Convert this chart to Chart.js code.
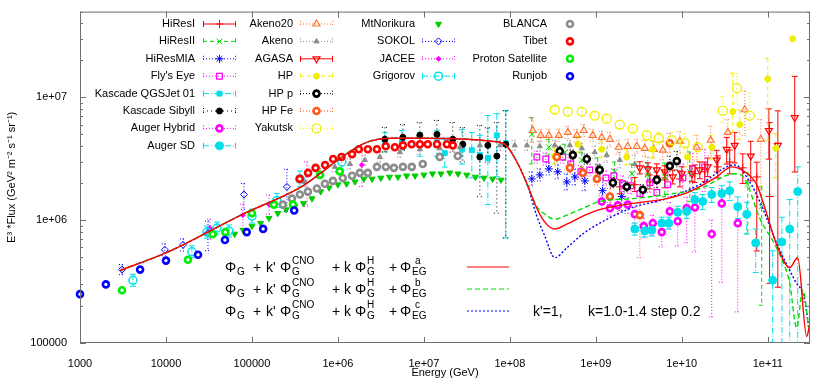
<!DOCTYPE html>
<html>
<head>
<meta charset="utf-8">
<script src="https://cdn.jsdelivr.net/npm/chart.js@4.4.1/dist/chart.umd.min.js"></script>
<style>
  html, body { margin: 0; padding: 0; background: #fff; }
</style>
</head>
<body>
<canvas id="spectrum" width="830" height="380"></canvas>
<script>
const FONT = "'Liberation Sans', Arial, sans-serif";

// axis ticks
const xTickValues = [1e3, 1e4, 1e5, 1e6, 1e7, 1e8, 1e9, 1e10, 1e11];
const xTickLabels = ["1000", "10000", "100000", "1e+06", "1e+07", "1e+08", "1e+09", "1e+10", "1e+11"];
const yTickValues = [1e5, 1e6, 1e7];
const yTickLabels = ["100000", "1e+06", "1e+07"];

// ---- measured data (E in GeV, E^3*flux), error bars as up/down factors
const hiresIE = [1.9e9, 2.84e9, 4.25e9, 6.34e9, 9.5e9, 1.42e10, 1.85e10, 2.62e10, 3.61e10, 5.12e10, 7.45e10, 1.05e11];
const hiresIF = [1.87e6, 1.95e6, 2.05e6, 2.13e6, 2.17e6, 2.39e6, 2.48e6, 2.72e6, 2.98e6, 2.67e6, 2.25e6, 1.56e6];
const hiresIUp = [1.14, 1.14, 1.14, 1.16, 1.16, 1.18, 1.2, 1.23, 1.25, 1.3, 1.32, 4.0];
const hiresIDn = [1.14, 1.14, 1.14, 1.16, 1.16, 1.18, 1.2, 1.23, 1.25, 1.34, 4.0, 5.1];

const hiresIIE = [1.8e8, 2.84e8, 4.37e8, 6.87e8, 1.05e9, 1.66e9, 2.62e9, 4.03e9, 6.34e9, 1.24e10, 5.85e10, 8.5e10];
const hiresIIF = [5.0e6, 3.93e6, 3.58e6, 3.09e6, 2.72e6, 2.48e6, 2.39e6, 2.34e6, 2.25e6, 2.48e6, 1.95e6, 1.29e6];
const hiresIIUp = [1.37, 1.16, 1.16, 1.16, 1.18, 1.2, 1.2, 1.25, 1.3, 1.45, 1.25, 1.45];
const hiresIIDn = [1.74, 1.16, 1.16, 1.16, 1.18, 1.2, 1.25, 1.3, 1.45, 1.74, 2.52, 6.35];

const hiresMiaE = [1.8e8, 2.23e8, 2.84e8, 3.61e8, 4.6e8, 5.7e8, 7.45e8, 1.2e9, 2.0e9];
const hiresMiaF = [2.17e6, 2.34e6, 2.62e6, 2.48e6, 2.05e6, 2.25e6, 2.09e6, 1.74e6, 1.56e6];
const hiresMiaErr = [1.14, 1.12, 1.12, 1.14, 1.16, 1.16, 1.2, 1.25, 1.3];

const flysEyeE = [2.06e8, 2.62e8, 4.13e8, 5.12e8, 6.7e8, 8.5e8, 1.08e9, 1.31e9, 1.62e9, 2.06e9, 2.55e9, 3.25e9, 4.25e9, 5.12e9, 6.87e9, 1.03e10, 1.34e10, 1.85e10];
const flysEyeF = [3.27e6, 3.15e6, 3.27e6, 2.87e6, 2.48e6, 2.57e6, 2.57e6, 2.21e6, 2.3e6, 1.98e6, 1.91e6, 1.65e6, 2.02e6, 1.68e6, 1.95e6, 2.21e6, 2.62e6, 2.72e6];
const flysEyeUp = [1.12, 1.12, 1.12, 1.12, 1.12, 1.12, 1.12, 1.14, 1.14, 1.16, 1.16, 1.18, 1.2, 1.2, 1.25, 1.3, 1.34, 1.39];
const flysEyeDn = [1.12, 1.12, 1.12, 1.12, 1.12, 1.12, 1.12, 1.14, 1.14, 1.16, 1.16, 1.18, 1.2, 1.2, 1.25, 1.3, 1.45, 1.59];

const kascadeQgsE = [3.52e6, 5.55e6, 8.97e6, 1.42e7, 1.75e7, 2.77e7, 3.61e7, 4.48e7, 5.55e7, 7.06e7, 8.97e7];
const kascadeQgsF = [4.32e6, 4.48e6, 4.15e6, 4.32e6, 3.52e6, 3.78e6, 3.72e6, 3.39e6, 3.21e6, 4.91e6, 4.24e6];
const kascadeQgsUp = [1.2, 1.2, 1.25, 1.25, 1.3, 1.45, 1.39, 1.45, 2.22, 1.5, 1.84];
const kascadeQgsDn = [1.2, 1.2, 1.25, 1.3, 1.3, 1.32, 1.68, 1.5, 2.39, 2.17, 5.9];

const kascadeSibE = [3.52e6, 5.7e6, 8.97e6, 1.42e7, 2.17e7, 2.84e7, 4.48e7, 5.55e7, 7.06e7, 8.97e7];
const kascadeSibF = [4.56e6, 4.73e6, 4.91e6, 5.0e6, 4.56e6, 4.15e6, 3.27e6, 4.07e6, 3.33e6, 4.15e6];
const kascadeSibUp = [1.25, 1.27, 1.27, 1.3, 1.37, 1.37, 1.81, 1.39, 1.88, 1.88];
const kascadeSibDn = [1.27, 1.27, 1.25, 1.27, 1.27, 1.39, 2.1, 1.37, 2.92, 5.8];

const augerHybE = [1.17e9, 1.46e9, 1.8e9, 2.35e9, 2.84e9, 3.61e9, 4.6e9, 5.85e9, 7.25e9, 8.97e9, 1.14e10, 1.42e10, 2.23e10, 2.92e10, 4.48e10];
const augerHybF = [1.42e6, 1.25e6, 1.32e6, 1.34e6, 1.12e6, 8.95e5, 9.46e5, 8.0e5, 1.18e6, 9.82e5, 1.25e6, 1.27e6, 7.73e5, 1.37e6, 9.46e5];
const augerHybUp = [1.12, 1.12, 1.12, 1.14, 1.14, 1.16, 1.16, 1.18, 1.18, 1.2, 1.23, 1.25, 1.3, 1.32, 1.39];
const augerHybDn = [1.16, 1.16, 1.18, 1.18, 1.2, 1.25, 1.25, 1.32, 1.39, 1.59, 1.91, 2.3, 4.73, 4.39, 5.28];

const augerSdE = [2.84e9, 3.71e9, 4.48e9, 5.85e9, 7.06e9, 8.97e9, 1.14e10, 1.42e10, 1.75e10, 2.23e10, 2.92e10, 3.61e10, 4.48e10, 5.7e10, 7.24e10, 1.14e11, 1.46e11, 1.8e11, 2.23e11];
const augerSdF = [8.47e5, 8.17e5, 8.32e5, 9.46e5, 9.46e5, 1.16e6, 1.18e6, 1.47e6, 1.42e6, 1.62e6, 1.65e6, 1.74e6, 1.29e6, 1.12e6, 6.53e5, 3.24e5, 6.65e5, 8.47e5, 1.71e6];
const augerSdUp = [1.12, 1.12, 1.12, 1.12, 1.12, 1.12, 1.12, 1.14, 1.14, 1.14, 1.16, 1.18, 1.2, 1.25, 1.3, 1.74, 1.59, 1.74, 1.59];
const augerSdDn = [1.12, 1.12, 1.12, 1.12, 1.12, 1.12, 1.14, 1.14, 1.16, 1.16, 1.18, 1.2, 1.25, 1.45, 1.74, 3.2, 6.6, 8.4, 16.9];

const akeno20E = [1.85e8, 2.29e8, 2.84e8, 3.71e8, 4.72e8, 6.01e8, 7.24e8, 9.22e8, 1.17e9, 1.46e9, 1.85e9, 2.35e9, 3.0e9, 3.71e9, 4.72e9, 6.01e9, 9.5e9, 1.49e10, 2.17e10, 3.43e10, 5.4e10, 8.3e10];
const akeno20F = [5.38e6, 4.91e6, 4.91e6, 4.91e6, 5.19e6, 4.91e6, 5.38e6, 4.91e6, 4.73e6, 4.56e6, 3.93e6, 4.0e6, 4.0e6, 3.85e6, 3.78e6, 3.72e6, 4.4e6, 3.93e6, 4.48e6, 5.19e6, 7.94e6, 4.56e6];
const akeno20Up = [1.27, 1.12, 1.12, 1.12, 1.12, 1.12, 1.12, 1.12, 1.12, 1.14, 1.14, 1.14, 1.14, 1.16, 1.16, 1.18, 1.2, 1.25, 1.3, 1.27, 1.42, 1.45];
const akeno20Dn = [1.25, 1.12, 1.12, 1.12, 1.12, 1.12, 1.12, 1.12, 1.12, 1.14, 1.14, 1.14, 1.14, 1.16, 1.18, 1.2, 1.25, 1.3, 1.34, 1.45, 1.62, 2.57];

const akenoE = [4.13e5, 6.18e5, 9.23e5, 1.38e6, 2.06e6, 3.08e6, 5.26e6, 8.97e6, 1.53e7, 2.62e7, 4.48e7, 7.66e7, 1.14e8, 1.58e8, 2.23e8, 3.33e8, 4.99e8, 6.87e8, 9.72e8, 1.34e9, 1.9e9, 2.84e9, 4.03e9];
const akenoF = [2.05e6, 2.39e6, 2.72e6, 2.87e6, 3.09e6, 3.27e6, 3.58e6, 3.78e6, 3.85e6, 3.93e6, 4.07e6, 4.07e6, 4.07e6, 4.07e6, 4.0e6, 4.07e6, 4.07e6, 3.85e6, 3.58e6, 3.39e6, 3.09e6, 2.87e6, 2.72e6];
const akenoErr = [1.1, 1.1, 1.1, 1.1, 1.1, 1.1, 1.1, 1.1, 1.1, 1.1, 1.1, 1.1, 1.1, 1.1, 1.1, 1.1, 1.1, 1.1, 1.12, 1.14, 1.16, 1.18, 1.2];

const agasaE = [3.25e9, 4.03e9, 5.12e9, 6.34e9, 7.85e9, 1.0e10, 1.31e10, 1.62e10, 2.0e10, 2.55e10, 3.33e10, 4.13e10, 6.34e10, 1.03e11, 1.31e11, 2.06e11];
const agasaF = [2.67e6, 2.62e6, 2.57e6, 2.48e6, 2.25e6, 2.39e6, 2.39e6, 2.57e6, 2.72e6, 3.09e6, 3.78e6, 4.07e6, 3.33e6, 5.38e6, 4.07e6, 6.84e6];
const agasaUp = [1.12, 1.12, 1.12, 1.12, 1.14, 1.14, 1.16, 1.16, 1.18, 1.2, 1.25, 1.27, 1.32, 1.5, 1.91, 2.17];
const agasaDn = [1.12, 1.12, 1.12, 1.12, 1.14, 1.14, 1.16, 1.18, 1.2, 1.25, 1.32, 1.39, 1.59, 1.71, 14.3, 2.77];

const hpE = [3.33e8, 6.18e8, 1.17e9, 2.29e9, 4.6e9, 1.17e10, 2.23e10, 3.92e10, 4.72e10, 1.0e11, 1.24e11, 1.95e11];
const hpF = [3.33e6, 4.15e6, 3.78e6, 3.27e6, 3.78e6, 3.27e6, 3.93e6, 7.66e6, 6.01e6, 1.41e7, 3.85e6, 3.0e7];
const hpUp = [1.16, 1.16, 1.16, 1.16, 1.18, 1.2, 1.25, 2.06, 1.32, 1.47, 1.32, 1];
const hpDn = [1.16, 1.16, 1.16, 1.16, 1.18, 1.2, 1.25, 1.47, 1.32, 3.15, 1.74, 1];

const hpProtonE = [3.81e8, 5.4e8, 7.85e8, 1.11e9, 1.58e9, 2.29e9, 3.52e9, 5.12e9, 7.25e9, 8.75e9];
const hpProtonF = [3.65e6, 3.39e6, 3.15e6, 2.57e6, 2.02e6, 1.87e6, 1.77e6, 2.13e6, 2.77e6, 3.03e6];
const hpProtonErr = [1.1, 1.1, 1.1, 1.1, 1.1, 1.1, 1.1, 1.16, 1.2, 1.2];

const hpIronE = [3.52e8, 4.99e8, 7.06e8, 1.03e9, 1.46e9, 3.25e9, 7.25e9];
const hpIronF = [3.27e6, 2.67e6, 2.43e6, 2.17e6, 1.56e6, 1.1e6, 4.24e6];
const hpIronUp = [1.1, 1.1, 1.12, 1.12, 1.16, 1.25, 1.2];
const hpIronDn = [1.1, 1.1, 1.12, 1.12, 1.16, 2.22, 1.2];

const yakutskE = [3.33e8, 4.72e8, 6.87e8, 9.7e8, 1.34e9, 1.9e9, 2.69e9, 3.92e9, 5.4e9, 7.66e9, 1.08e10, 1.53e10, 3.0e10, 4.37e10, 6.18e10];
const yakutskF = [7.94e6, 7.66e6, 7.66e6, 7.1e6, 6.71e6, 6.01e6, 5.58e6, 4.91e6, 4.65e6, 4.48e6, 4.24e6, 3.93e6, 7.8e6, 1.19e7, 7.1e6];
const yakutskUp = [1.06, 1.06, 1.06, 1.06, 1.08, 1.08, 1.08, 1.1, 1.12, 1.16, 1.2, 1.25, 1.3, 1.32, 1.53];
const yakutskDn = [1.06, 1.06, 1.06, 1.06, 1.08, 1.08, 1.08, 1.1, 1.12, 1.16, 1.2, 1.25, 1.25, 1.32, 1.3];

const norikuraE = [6.3e4, 7.9e4, 1.0e5, 1.26e5, 1.58e5, 2.0e5, 2.5e5, 3.16e5, 3.98e5, 5.0e5, 6.3e5, 7.9e5, 1.0e6, 1.26e6, 1.58e6, 2.0e6, 2.5e6, 3.16e6, 3.98e6, 5.0e6, 6.3e6, 7.9e6, 1.0e7, 1.26e7, 1.58e7, 2.0e7, 2.5e7, 3.16e7, 3.98e7, 5.0e7, 6.3e7, 7.9e7];
const norikuraF = [7.73e5, 8.32e5, 8.95e5, 9.46e5, 1.04e6, 1.14e6, 1.22e6, 1.29e6, 1.37e6, 1.5e6, 1.71e6, 1.84e6, 1.95e6, 1.98e6, 2.06e6, 2.17e6, 2.17e6, 2.21e6, 2.25e6, 2.25e6, 2.3e6, 2.3e6, 2.34e6, 2.39e6, 2.39e6, 2.43e6, 2.39e6, 2.34e6, 2.25e6, 2.21e6, 2.17e6, 2.13e6];

const sokolE = [3.08e3, 9.7e3, 1.58e4, 3.08e4, 8.07e4, 2.55e5];
const sokolF = [3.96e5, 5.74e5, 6.3e5, 7.87e5, 1.62e6, 1.87e6];
const sokolUp = [1.1, 1.12, 1.12, 1.25, 1.23, 1.39];
const sokolDn = [1.1, 1.12, 1.12, 1.39, 1.32, 1.59];

const jaceeE = [3.25e4, 7.85e4, 1.58e5, 4.37e5, 1.9e6];
const jaceeF = [8.63e5, 1.1e6, 1.34e6, 2.39e6, 2.82e6];
const jaceeUp = [1.18, 1.23, 1.2, 1.25, 1.34];
const jaceeDn = [1.23, 1.3, 1.2, 1.84, 1.5];

const grigorovE = [4.13e3, 2.0e4, 3.0e4, 3.92e4, 5.4e4, 1.0e5, 1.95e5, 3.61e5, 1.11e6];
const grigorovF = [3.24e5, 5.53e5, 8.0e5, 8.63e5, 8.17e5, 1.08e6, 1.45e6, 2.17e6, 2.98e6];
const grigorovErr = [1.12, 1.12, 1.12, 1.12, 1.12, 1.14, 1.14, 1.16, 1.16];

const blancaE = [2.29e5, 2.92e5, 3.61e5, 4.48e5, 5.7e5, 7.06e5, 8.75e5, 1.14e6, 1.46e6, 1.8e6, 2.23e6, 2.84e6, 3.61e6, 4.48e6, 5.7e6, 7.24e6, 9.7e6, 1.53e7, 2.48e7];
const blancaF = [1.34e6, 1.5e6, 1.62e6, 1.71e6, 1.81e6, 1.98e6, 2.09e6, 2.21e6, 2.3e6, 2.43e6, 2.43e6, 2.72e6, 2.72e6, 2.67e6, 2.72e6, 2.72e6, 2.87e6, 3.27e6, 3.33e6];

const tibetE = [3.6e5, 4.5e5, 5.5e5, 7.1e5, 8.8e5, 1.1e6, 1.46e6, 1.75e6, 2.23e6, 2.84e6, 3.6e6, 4.6e6, 5.7e6, 7.2e6, 9.0e6, 1.11e7, 1.42e7, 1.85e7, 2.17e7];
const tibetF = [2.17e6, 2.43e6, 2.67e6, 2.82e6, 3.15e6, 3.27e6, 3.45e6, 3.78e6, 3.78e6, 3.78e6, 4.0e6, 3.93e6, 4.07e6, 4.15e6, 4.15e6, 4.15e6, 4.15e6, 4.15e6, 4.07e6];

const protonSatE = [3.08e3, 1.8e4, 3.5e4, 4.9e4, 1.0e5, 1.8e5, 3.0e5, 6.2e5, 1.05e6];
const protonSatF = [2.69e5, 4.77e5, 7.7e5, 8.0e5, 1.14e6, 1.34e6, 1.34e6, 2.34e6, 2.5e6];

const runjobE = [1.0e3, 2.0e3, 5.0e3, 1.0e4, 2.36e4, 4.85e4, 8.7e4, 1.35e5, 3.1e5];
const runjobF = [2.5e5, 3.0e5, 3.96e5, 4.69e5, 5.24e5, 6.9e5, 8.0e5, 8.5e5, 1.2e6];

// ---- model curves (shared part up to the ankle, then a / b / c)
const modelBaseE = [2.92e3, 1.0e4, 1.58e4, 7.85e4, 3.61e5, 6.18e5, 1.0e6, 1.58e6, 2.36e6, 4.03e6, 8.97e6, 3.16e7, 6.0e7, 8.75e7, 1.21e8, 1.58e8];
const modelBaseF = [3.89e5, 5.43e5, 6.3e5, 1.12e6, 1.84e6, 2.39e6, 3.09e6, 3.85e6, 4.4e6, 4.65e6, 4.65e6, 4.56e6, 4.4e6, 4.15e6, 2.98e6, 1.98e6];
const modelAE = [2.06e8, 2.55e8, 3.33e8, 4.6e8, 7.06e8, 1.11e9, 2.69e9, 6.7e9, 1.24e10, 2.55e10, 3.8e10, 5.4e10, 7.45e10, 8.75e10, 1.31e11, 1.8e11, 2.23e11, 2.84e11, 3.07e11];
const modelAF = [1.25e6, 9.64e5, 8.47e5, 9.29e5, 1.08e6, 1.22e6, 1.37e6, 1.5e6, 1.71e6, 2.25e6, 2.72e6, 2.48e6, 1.95e6, 1.42e6, 5.96e5, 4.11e5, 4.95e5, 1.13e5, 1.41e5];
const modelBE = [2.06e8, 2.55e8, 3.33e8, 4.6e8, 7.06e8, 1.11e9, 2.69e9, 6.7e9, 1.62e10, 4.13e10, 5.4e10, 8.07e10, 1.31e11, 1.8e11, 2.17e11, 2.55e11, 3.07e11];
const modelBF = [1.29e6, 1.12e6, 1.02e6, 1.1e6, 1.25e6, 1.42e6, 1.5e6, 1.62e6, 1.81e6, 2.39e6, 2.17e6, 1.04e6, 5.64e5, 3.06e5, 1.33e5, 2.69e5, 1.17e5];
const modelCE = [2.06e8, 2.55e8, 3.33e8, 4.6e8, 7.06e8, 1.11e9, 2.69e9, 6.7e9, 1.62e10, 4.13e10, 6.18e10, 8.07e10, 1.31e11, 2.06e11, 2.69e11, 3.07e11];
const modelCF = [1.08e6, 7.44e5, 4.95e5, 5.96e5, 7.73e5, 9.46e5, 1.27e6, 1.5e6, 1.95e6, 2.82e6, 2.05e6, 1.42e6, 6.18e5, 3.24e5, 2.23e5, 1.17e5];

const modelSup = ["a", "b", "c"];

// ---- styles
const RED = "#ff0000", GREEN = "#00dd00", BLUE = "#0000ff", MAG = "#ff00ff", CYAN = "#00e0ea";
const YEL = "#eeee00", GRAY = "#8c8c8c", ORANGE = "#ff7330", ORANGE2 = "#ff5a1a";
const DOT = [1, 2], DASH = [4, 3], DASHDOT = [6, 2, 1, 2];

function pts(E, F) {
    return E.map((e, i) => ({ x: e, y: F[i] }));
}

const series = [
    { label: "HiResI", E: hiresIE, F: hiresIF, up: hiresIUp, dn: hiresIDn, color: RED, dash: [], ps: "cross", r: 4, fill: null, bw: 1, col: 0, row: 0 },
    { label: "HiResII", E: hiresIIE, F: hiresIIF, up: hiresIIUp, dn: hiresIIDn, color: GREEN, dash: DASH, ps: "crossRot", r: 4, fill: null, bw: 1, col: 0, row: 1 },
    { label: "HiResMIA", E: hiresMiaE, F: hiresMiaF, up: hiresMiaErr, dn: hiresMiaErr, color: BLUE, dash: DOT, ps: "star", r: 4, fill: null, bw: 1, col: 0, row: 2 },
    { label: "Fly's Eye", E: flysEyeE, F: flysEyeF, up: flysEyeUp, dn: flysEyeDn, color: MAG, dash: DOT, ps: "rect", r: 4, fill: null, bw: 1.2, col: 0, row: 3 },
    { label: "Kascade QGSJet 01", E: kascadeQgsE, F: kascadeQgsF, up: kascadeQgsUp, dn: kascadeQgsDn, color: CYAN, dash: DASHDOT, ps: "rect", r: 3.5, fill: CYAN, bw: 1, col: 0, row: 4 },
    { label: "Kascade Sibyll", E: kascadeSibE, F: kascadeSibF, up: kascadeSibUp, dn: kascadeSibDn, color: "#000000", dash: [1, 3], ps: "circle", r: 3, fill: "#000000", bw: 1, col: 0, row: 5 },
    { label: "Auger Hybrid", E: augerHybE, F: augerHybF, up: augerHybUp, dn: augerHybDn, color: MAG, dash: DOT, ps: "circle", r: 3, fill: "#ffffff", bw: 2.6, col: 0, row: 6 },
    { label: "Auger SD", E: augerSdE, F: augerSdF, up: augerSdUp, dn: augerSdDn, color: CYAN, dash: DASHDOT, ps: "circle", r: 4, fill: CYAN, bw: 1, col: 0, row: 7 },
    { label: "Akeno20", E: akeno20E, F: akeno20F, up: akeno20Up, dn: akeno20Dn, color: ORANGE, dash: DOT, ps: "triangle", r: 4, fill: null, bw: 1.2, col: 1, row: 0 },
    { label: "Akeno", E: akenoE, F: akenoF, up: akenoErr, dn: akenoErr, color: GRAY, dash: DOT, ps: "triangle", r: 3, fill: GRAY, bw: 1, col: 1, row: 1 },
    { label: "AGASA", E: agasaE, F: agasaF, up: agasaUp, dn: agasaDn, color: RED, dash: [], ps: "triangle", rot: 180, r: 4, fill: null, bw: 1.2, col: 1, row: 2 },
    { label: "HP", E: hpE, F: hpF, up: hpUp, dn: hpDn, color: YEL, dash: DASH, ps: "circle", r: 3, fill: YEL, bw: 1, col: 1, row: 3 },
    { label: "HP p", E: hpProtonE, F: hpProtonF, up: hpProtonErr, dn: hpProtonErr, color: "#000000", dash: DOT, ps: "circle", r: 3, fill: "#ffffff", bw: 2.6, col: 1, row: 4 },
    { label: "HP Fe", E: hpIronE, F: hpIronF, up: hpIronUp, dn: hpIronDn, color: ORANGE2, dash: DOT, ps: "circle", r: 3, fill: "#ffffff", bw: 2.6, col: 1, row: 5 },
    { label: "Yakutsk", E: yakutskE, F: yakutskF, up: yakutskUp, dn: yakutskDn, color: YEL, dash: DOT, ps: "circle", r: 4.5, fill: null, bw: 1.3, col: 1, row: 6 },
    { label: "MtNorikura", E: norikuraE, F: norikuraF, color: "#00cc00", ps: "triangle", rot: 180, r: 3.5, fill: "#00cc00", bw: 1, col: 2, row: 0 },
    { label: "SOKOL", E: sokolE, F: sokolF, up: sokolUp, dn: sokolDn, color: BLUE, dash: DOT, ps: "rectRot", r: 3.5, fill: null, bw: 1, col: 2, row: 1 },
    { label: "JACEE", E: jaceeE, F: jaceeF, up: jaceeUp, dn: jaceeDn, color: MAG, dash: DOT, ps: "rectRot", r: 2.5, fill: MAG, bw: 1, col: 2, row: 2 },
    { label: "Grigorov", E: grigorovE, F: grigorovF, up: grigorovErr, dn: grigorovErr, color: CYAN, dash: DASHDOT, ps: "circle", r: 4, fill: null, bw: 1.5, col: 2, row: 3 },
    { label: "BLANCA", E: blancaE, F: blancaF, color: GRAY, ps: "circle", r: 3, fill: "#ffffff", bw: 2.6, col: 3, row: 0 },
    { label: "Tibet", E: tibetE, F: tibetF, color: RED, ps: "circle", r: 3, fill: "#ffffff", bw: 2.6, col: 3, row: 1 },
    { label: "Proton Satellite", E: protonSatE, F: protonSatF, color: "#00ee00", ps: "circle", r: 3, fill: "#ffffff", bw: 2.6, col: 3, row: 2 },
    { label: "Runjob", E: runjobE, F: runjobF, color: BLUE, ps: "circle", r: 3, fill: "#ffffff", bw: 2.6, col: 3, row: 3 }
];

const models = [
    { label: "model a", E: modelBaseE.concat(modelAE), F: modelBaseF.concat(modelAF), color: RED, dash: [] },
    { label: "model b", E: modelBaseE.concat(modelBE), F: modelBaseF.concat(modelBF), color: GREEN, dash: [5, 3] },
    { label: "model c", E: modelBaseE.concat(modelCE), F: modelBaseF.concat(modelCF), color: BLUE, dash: [2, 2] }
];

// legend layout: right edge of text, sample line start/end
const legendCols = [
    { tx: 195, s0: 203, s1: 236 },
    { tx: 293, s0: 300, s1: 333 },
    { tx: 415, s0: 422, s1: 455 },
    { tx: 547, s0: 562, s1: 578 }
];

let datasets = [];
models.forEach((m, i) => {
    datasets.push({
        label: m.label,
        data: pts(m.E, m.F),
        showLine: true,
        borderColor: m.color,
        borderWidth: 1.4,
        borderDash: m.dash,
        pointRadius: 0,
        cubicInterpolationMode: "monotone",
        order: i
    });
});
series.forEach((s, i) => {
    datasets.push({
        label: s.label,
        data: pts(s.E, s.F),
        showLine: false,
        pointStyle: s.ps,
        pointRotation: s.rot || 0,
        pointRadius: s.r,
        pointHoverRadius: s.r,
        pointBorderWidth: s.bw,
        pointBorderColor: s.color,
        pointBackgroundColor: s.fill || "rgba(0,0,0,0)",
        borderColor: s.color,
        clip: false,
        errUp: s.up,
        errDn: s.dn,
        errDash: s.dash,
        order: 100 - i
    });
});

// error bars, under the markers
const errorBars = {
    id: "errorBars",
    beforeDatasetsDraw(chart) {
        const ctx = chart.ctx;
        const a = chart.chartArea;
        const xs = chart.scales.x, ys = chart.scales.y;
        ctx.save();
        ctx.beginPath();
        ctx.rect(a.left, a.top, a.right - a.left, a.bottom - a.top);
        ctx.clip();
        ctx.lineWidth = 1;
        chart.data.datasets.forEach(ds => {
            if (!ds.errUp) return;
            ctx.strokeStyle = ds.borderColor;
            ctx.setLineDash(ds.errDash || []);
            ds.data.forEach((p, i) => {
                const up = ds.errUp[i], dn = ds.errDn[i];
                if (up <= 1 && dn <= 1) return;
                const px = xs.getPixelForValue(p.x);
                const y1 = ys.getPixelForValue(p.y * up);
                const y2 = ys.getPixelForValue(p.y / dn);
                ctx.beginPath();
                ctx.moveTo(px, y1); ctx.lineTo(px, y2);
                ctx.moveTo(px - 3, y1); ctx.lineTo(px + 3, y1);
                ctx.moveTo(px - 3, y2); ctx.lineTo(px + 3, y2);
                ctx.stroke();
            });
        });
        ctx.restore();
    }
};

function marker(ctx, s, x, y) {
    ctx.setLineDash([]);
    ctx.lineWidth = s.bw;
    ctx.strokeStyle = s.color;
    ctx.fillStyle = s.fill || "rgba(0,0,0,0)";
    Chart.helpers.drawPoint(ctx, { pointStyle: s.ps, rotation: s.rot || 0, radius: s.r, borderWidth: s.bw }, x, y);
}

// frame, inward ticks, key, formula
const decorations = {
    id: "decorations",
    afterDraw(chart) {
        const ctx = chart.ctx;
        const a = chart.chartArea;
        const xs = chart.scales.x, ys = chart.scales.y;
        ctx.save();
        ctx.setLineDash([]);
        ctx.strokeStyle = "#707070";
        ctx.lineWidth = 1;
        ctx.strokeRect(a.left + 0.5, a.top + 0.5, a.right - a.left - 1, a.bottom - a.top - 1);
        ctx.beginPath();
        xTickValues.forEach(v => {
            const px = Math.round(xs.getPixelForValue(v)) + 0.5;
            ctx.moveTo(px, a.bottom); ctx.lineTo(px, a.bottom - 6);
            ctx.moveTo(px, a.top); ctx.lineTo(px, a.top + 6);
        });
        for (let d = 1e5; d < 1e8; d *= 10) {
            for (let k = 1; k < 10; k++) {
                const v = d * k;
                if (v > ys.max) break;
                const py = Math.round(ys.getPixelForValue(v)) + 0.5;
                const len = k === 1 ? 6 : 3;
                ctx.moveTo(a.left, py); ctx.lineTo(a.left + len, py);
                ctx.moveTo(a.right, py); ctx.lineTo(a.right - len, py);
            }
        }
        ctx.stroke();

        // key
        ctx.font = "11px " + FONT;
        ctx.textBaseline = "middle";
        ctx.textAlign = "right";
        series.forEach(s => {
            const c = legendCols[s.col];
            const y = 24 + s.row * 17.4;
            ctx.fillStyle = "#000";
            ctx.fillText(s.label, c.tx, y);
            const mx = (c.s0 + c.s1) / 2;
            if (s.up) {
                ctx.strokeStyle = s.color;
                ctx.lineWidth = 1;
                ctx.setLineDash(s.dash);
                ctx.beginPath();
                ctx.moveTo(c.s0, y); ctx.lineTo(c.s1, y);
                ctx.moveTo(c.s0 + 0.5, y - 3); ctx.lineTo(c.s0 + 0.5, y + 3);
                ctx.moveTo(c.s1 - 0.5, y - 3); ctx.lineTo(c.s1 - 0.5, y + 3);
                ctx.stroke();
            }
            marker(ctx, s, mx, y);
        });

        // model formula
        const rowY = [272, 294, 316];
        ctx.textAlign = "left";
        ctx.textBaseline = "alphabetic";
        rowY.forEach((y, i) => {
            ctx.fillStyle = "#000";
            const big = "14px " + FONT, small = "10px " + FONT;
            const put = (t, x, dy, f) => { ctx.font = f; ctx.fillText(t, x, y + dy); };
            put("\u03A6", 225, 0, big); put("G", 237, 3, small);
            put("+", 253, 0, big); put("k'", 266, 0, big); put("\u03A6", 280, 0, big);
            put("CNO", 292, -8, small); put("G", 292, 3, small);
            put("+", 332, 0, big); put("k", 344, 0, big); put("\u03A6", 355, 0, big);
            put("H", 367, -8, small); put("G", 367, 3, small);
            put("+", 389, 0, big); put("\u03A6", 400, 0, big);
            put(modelSup[i], 415, -8, small); put("EG", 412, 3, small);
            const m = models[i];
            ctx.strokeStyle = m.color;
            ctx.lineWidth = 1.2;
            ctx.setLineDash(m.dash);
            ctx.beginPath();
            ctx.moveTo(467, y - 5); ctx.lineTo(509, y - 5);
            ctx.stroke();
        });
        ctx.fillStyle = "#000";
        ctx.font = "14px " + FONT;
        ctx.fillText("k'=1,", 533, 316);
        ctx.fillText("k=1.0-1.4 step 0.2", 588, 316);
        ctx.restore();
    }
};

Chart.defaults.font.family = FONT;
Chart.defaults.font.size = 11;
Chart.defaults.color = "#000";

new Chart(document.getElementById("spectrum"), {
    type: "scatter",
    data: { datasets: datasets },
    options: {
        responsive: false,
        devicePixelRatio: 1,
        animation: false,
        events: [],
        layout: { padding: { left: 0, right: 20, top: 7, bottom: 0 } },
        plugins: { legend: { display: false }, tooltip: { enabled: false } },
        scales: {
            x: {
                type: "logarithmic",
                min: 1000,
                max: 3.1e11,
                grid: { display: false },
                border: { display: false },
                afterBuildTicks: s => { s.ticks = xTickValues.map(v => ({ value: v })); },
                afterFit: s => { s.height = 37; },
                ticks: {
                    autoSkip: false,
                    maxRotation: 0,
                    padding: 6,
                    callback: v => xTickLabels[xTickValues.indexOf(v)]
                },
                title: { display: true, text: "Energy (GeV)", padding: { top: 0, bottom: 0 } }
            },
            y: {
                type: "logarithmic",
                min: 1e5,
                max: 5e7,
                grid: { display: false },
                border: { display: false },
                afterBuildTicks: s => { s.ticks = yTickValues.map(v => ({ value: v })); },
                afterFit: s => { s.width = 80; },
                ticks: {
                    autoSkip: false,
                    padding: 5,
                    callback: v => yTickLabels[yTickValues.indexOf(v)]
                },
                title: { display: true, text: "E\u00B3 *Flux (GeV\u00B2 m\u207B\u00B2 s\u207B\u00B9 sr\u207B\u00B9)", padding: { top: 5, bottom: 0 } }
            }
        }
    },
    plugins: [errorBars, decorations]
});
</script>
</body>
</html>
